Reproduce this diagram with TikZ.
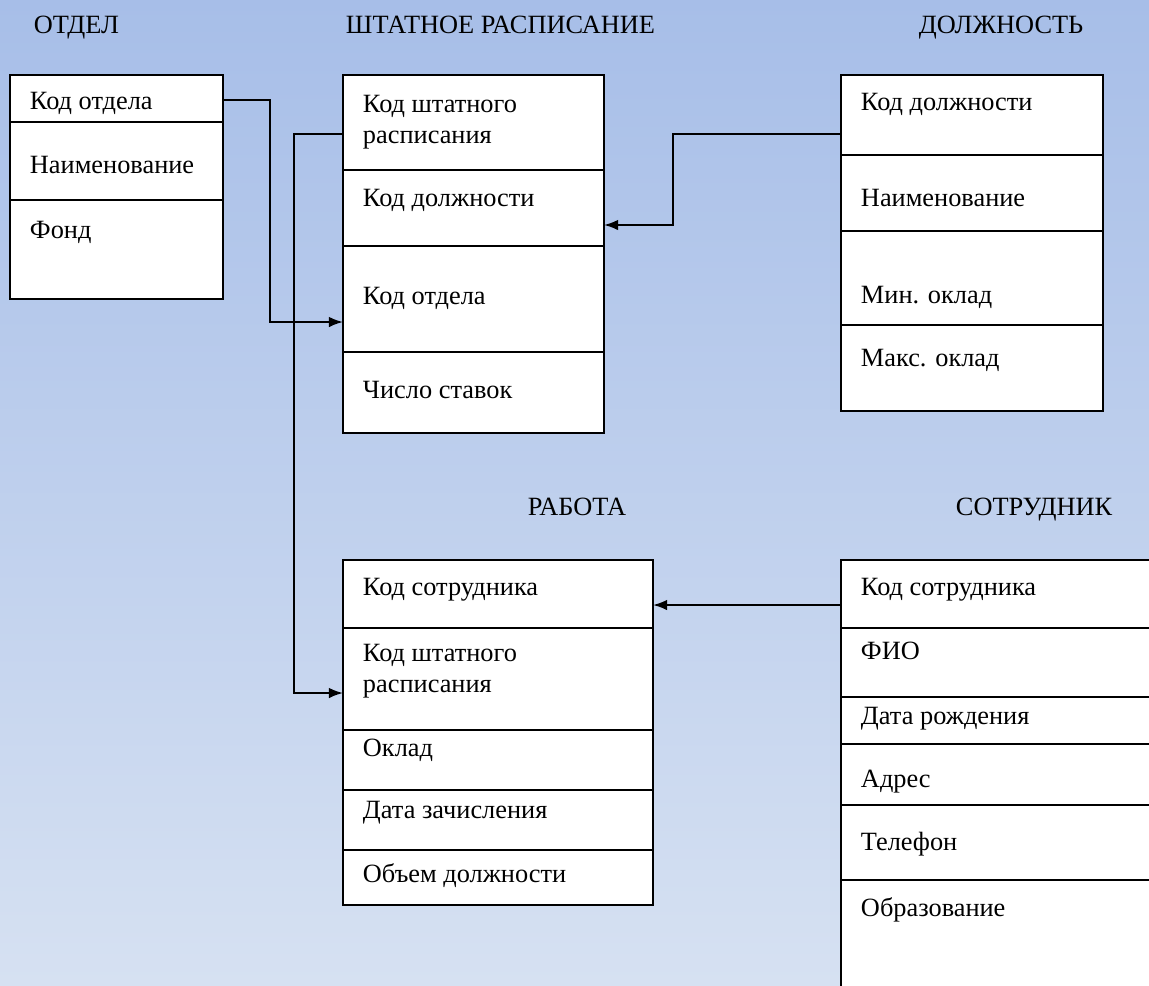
\documentclass[tikz,border=0pt]{standalone}
\usepackage{fontspec}
\setmainfont{Liberation Serif}
\usetikzlibrary{arrows.meta,fit}

\definecolor{bgtop}{RGB}{167,190,232}
\definecolor{bgbot}{RGB}{214,225,242}

\begin{document}
\begin{tikzpicture}[x=0.02cm,
                    y=-0.02cm,
                    line width=1.1pt,
                    every node/.style={font=\fontsize{15}{17.6}\selectfont},
                    table box/.style={draw,fill=white,inner sep=0pt},
                    field/.style={anchor=base west,inner sep=0pt,align=left},
                    title/.style={anchor=base west,inner sep=0pt},
                    link/.style={-{Latex[length=8pt,width=6pt]}}]

  \useasboundingbox (0,0) rectangle (1149,985);
  \shade[top color=bgtop,bottom color=bgbot] (0,0) rectangle (1149,985);

  % titles
  \node[title] (t-otdel) at (33,33) {ОТДЕЛ};
  \node[title] (t-shtat) at (345,33) {ШТАТНОЕ РАСПИСАНИЕ};
  \node[title] (t-dolzh) at (918,33) {ДОЛЖНОСТЬ};
  \node[title] (t-rab) at (527,515) {РАБОТА};
  \node[title] (t-sotr) at (955,515) {СОТРУДНИК};

  % tables
  \node[table box,fit={(10,75) (223,299)}] (otdel) {};
  \node[table box,fit={(343,75) (604,433)}] (shtat) {};
  \node[table box,fit={(841,75) (1103,411)}] (dolzh) {};
  \node[table box,fit={(343,560) (653,905)}] (rab) {};
  \node[table box,fit={(841,560) (1170,1010)}] (sotr) {};

  \foreach \y in {122,200} \draw (10,\y) -- (223,\y);
  \foreach \y in {170,246,352} \draw (343,\y) -- (604,\y);
  \foreach \y in {155,231,325} \draw (841,\y) -- (1103,\y);
  \foreach \y in {628,730,790,850} \draw (343,\y) -- (653,\y);
  \foreach \y in {628,697,744,805,880} \draw (841,\y) -- (1170,\y);

  % fields
  \node[field] (otdel-kod) at (29,109) {Код отдела};
  \node[field] (otdel-naim) at (29,173) {Наименование};
  \node[field] (otdel-fond) at (29,238) {Фонд};

  \node[field] (shtat-kod) at (362,143) {Код штатного\\расписания};
  \node[field] (shtat-dolzh) at (362,206) {Код должности};
  \node[field] (shtat-otdel) at (362,304) {Код отдела};
  \node[field] (shtat-chislo) at (362,398) {Число ставок};

  \node[field] (dolzh-kod) at (860,110) {Код должности};
  \node[field] (dolzh-naim) at (860,206) {Наименование};
  \node[field] (dolzh-min) at (860,303) {Мин. оклад};
  \node[field] (dolzh-max) at (860,366) {Макс. оклад};

  \node[field] (rab-kod) at (362,595) {Код сотрудника};
  \node[field] (rab-shtat) at (362,692) {Код штатного\\расписания};
  \node[field] (rab-oklad) at (362,756) {Оклад};
  \node[field] (rab-data) at (362,818) {Дата зачисления};
  \node[field] (rab-obem) at (362,882) {Объем должности};

  \node[field] (sotr-kod) at (860,595) {Код сотрудника};
  \node[field] (sotr-fio) at (860,659) {ФИО};
  \node[field] (sotr-data) at (860,724) {Дата рождения};
  \node[field] (sotr-adres) at (860,787) {Адрес};
  \node[field] (sotr-tel) at (860,850) {Телефон};
  \node[field] (sotr-obr) at (860,916) {Образование};

  % connection points
  \coordinate (otdel-out) at (223,100);
  \coordinate (shtat-out) at (343,134);
  \coordinate (shtat-in1) at (343,322);
  \coordinate (shtat-in2) at (604,225);
  \coordinate (dolzh-out) at (841,134);
  \coordinate (rab-in1) at (343,693);
  \coordinate (rab-in2) at (653,605);
  \coordinate (sotr-out) at (841,605);

  \draw[link] (otdel-out) -- ++(47,0) |- (shtat-in1);
  \draw[link] (shtat-out) -- ++(-49,0) |- (rab-in1);
  \draw[link] (dolzh-out) -- ++(-168,0) |- (shtat-in2);
  \draw[link] (sotr-out) -- (rab-in2);
\end{tikzpicture}
\end{document}
